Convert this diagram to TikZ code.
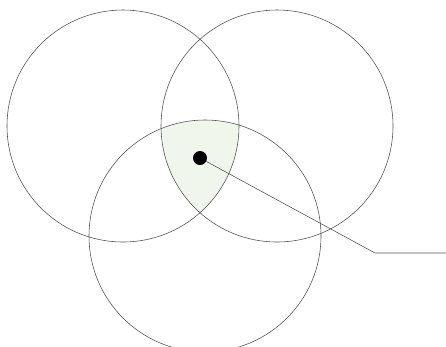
\documentclass[tikz,border=0pt]{standalone}
\usepackage{tikz}
\usetikzlibrary{positioning}
\definecolor{meetfill}{RGB}{240,246,236}
\tikzset{
  ring/.style={draw=black!70, line width=0.55pt},
  blob/.style={circle, fill=black, inner sep=0pt, minimum size=14pt},
  leader/.style={draw=black!70, line width=0.55pt}
}
\begin{document}
\begin{tikzpicture}[x=1pt,y=-1pt]
\useasboundingbox (0,0) rectangle (446,346);
\def\R{116pt}
\coordinate (cl) at (123,126);
\coordinate (cr) at (277,126);
\coordinate (cb) at (205,236);
% common part of the three discs
\begin{scope}
  \clip (cl) circle (\R);
  \clip (cr) circle (\R);
  \fill[meetfill] (cb) circle (\R);
\end{scope}
% the three circles
\foreach \c in {cl,cr,cb}{
  \draw[ring] (\c) circle (\R);}
% marked point and leader line
\node[blob] (pt) at (200,158) {};
\coordinate (knee) at (375,253);
\coordinate (tail) at (446,253);
\draw[leader] (pt) -- (knee) -- (tail);
\end{tikzpicture}
\end{document}
